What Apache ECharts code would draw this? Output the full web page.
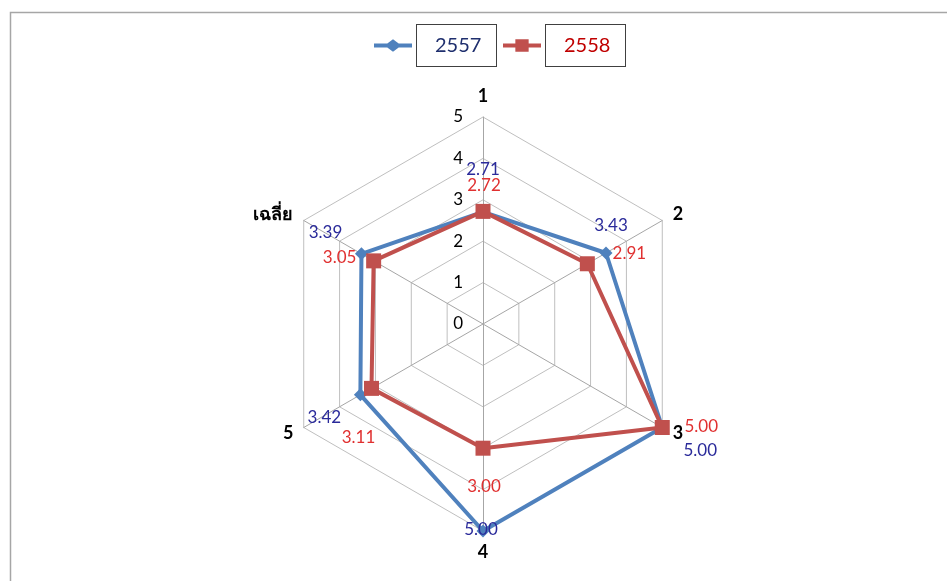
<!DOCTYPE html>
<html>
<head>
<meta charset="utf-8">
<script src="https://cdn.jsdelivr.net/npm/echarts@6/dist/echarts.min.js"></script>
<style>html,body{margin:0;padding:0;background:#fff}#c{width:947px;height:581px}</style>
</head>
<body>
<div id="c"></div>
<script>
// ---- data ----
const indicators = ['1', '2', '3', '4', '5', 'เฉลี่ย'];
const seriesNames = ['2557', '2558'];
const values2557 = [2.71, 3.43, 5.00, 5.00, 3.42, 3.39];
const values2558 = [2.72, 2.91, 5.00, 3.00, 3.11, 3.05];
const axisMax = 5;

// ---- label layout (style only), indexed like indicators ----
const shift2557 = [[0,-42],[5,-27],[38,23],[-2,-1],[-36,23],[-36,-21]];
const shift2558 = [[1,-26],[42,-10],[39,-1],[1,38],[-13,49],[-34,-3]];

// radar in ECharts runs counter-clockwise; reorder so categories run clockwise
const order = [0, 5, 4, 3, 2, 1];
const pick = arr => order.map(i => arr[i]);

const FONT = 'Lato, "Noto Sans", "DejaVu Sans", sans-serif';

function richFor(shifts, color, prefix) {
  const rich = {};
  shifts.forEach((s, i) => {
    const dx = s[0], dy = s[1];
    rich[prefix + i] = {
      color: color, fontSize: 17, fontFamily: FONT,
      padding: [dy > 0 ? 2 * dy : 0, dx < 0 ? -2 * dx : 0, dy < 0 ? -2 * dy : 0, dx > 0 ? 2 * dx : 0]
    };
  });
  return rich;
}
function labelFor(shifts, color, prefix) {
  return {
    show: true,
    position: 'inside',
    formatter: function (p) {
      const i = p.dimensionIndex != null ? p.dimensionIndex : 0;
      return '{' + prefix + i + '|' + Number(p.value).toFixed(2) + '}';
    },
    rich: richFor(shifts, color, prefix)
  };
}

const indicatorCfg = pick(indicators).map((name, i) => {
  const o = { name: name, max: axisMax, min: 0 };
  if (i !== 0) o.axisLabel = { show: false };
  return o;
});

const chart = echarts.init(document.getElementById('c'), null, { renderer: 'canvas' });
chart.setOption({
  backgroundColor: '#fff',
  animation: false,
  graphic: [{
    type: 'rect', left: 8, top: 10, shape: { width: 960, height: 600 },
    style: { fill: 'none', stroke: '#a6a6a6', lineWidth: 1.5 }, silent: true, z: -10
  }],
  legend: {
    top: 19,
    left: 369,
    itemWidth: 38,
    itemHeight: 13,
    itemGap: 6,
    data: [
      { name: seriesNames[0],
        icon: 'path://M0,4.5 L14,4.5 L20,0 L26,4.5 L40,4.5 L40,8.5 L26,8.5 L20,13 L14,8.5 L0,8.5 Z',
        itemStyle: { color: '#4f81bd' },
        textStyle: { color: '#1f2f6e' } },
      { name: seriesNames[1],
        icon: 'path://M0,4.5 L13,4.5 L13,0 L27,0 L27,4.5 L40,4.5 L40,8.5 L27,8.5 L27,13 L13,13 L13,8.5 L0,8.5 Z',
        itemStyle: { color: '#c0504d' },
        textStyle: { color: '#c00000' } }
    ],
    textStyle: {
      fontSize: 20, fontFamily: FONT,
      borderColor: '#404040', borderWidth: 1,
      padding: [11, 18, 10, 18],
      width: 43,
      align: 'center',
      backgroundColor: '#fff'
    }
  },
  radar: {
    center: [483, 324],
    radius: 207,
    startAngle: 90,
    shape: 'polygon',
    splitNumber: 5,
    indicator: indicatorCfg,
    nameGap: 12,
    axisName: { color: '#000', fontWeight: 'bold', fontSize: 18, fontFamily: FONT },
    axisLine: { lineStyle: { color: '#a6a6a6', width: 1 } },
    splitLine: { lineStyle: { color: '#bfbfbf', width: 1 } },
    splitArea: { show: false },
    axisTick: { show: false },
    axisLabel: { show: true, color: '#000', fontSize: 17, fontFamily: FONT, margin: 20, showMinLabel: true, showMaxLabel: true }
  },
  series: [{
    type: 'radar',
    z: 2,
    data: [{
      name: seriesNames[0],
      value: pick(values2557),
      symbol: 'diamond',
      symbolSize: 13,
      itemStyle: { color: '#4f81bd' },
      lineStyle: { color: '#4f81bd', width: 4 },
      label: labelFor(pick(shift2557), '#2a2a9a', 'a')
    }]
  }, {
    type: 'radar',
    z: 3,
    data: [{
      name: seriesNames[1],
      value: pick(values2558),
      symbol: 'rect',
      symbolSize: 15,
      itemStyle: { color: '#c0504d' },
      lineStyle: { color: '#c0504d', width: 4 },
      label: labelFor(pick(shift2558), '#e03030', 'b')
    }]
  }]
});
</script>
</body>
</html>
